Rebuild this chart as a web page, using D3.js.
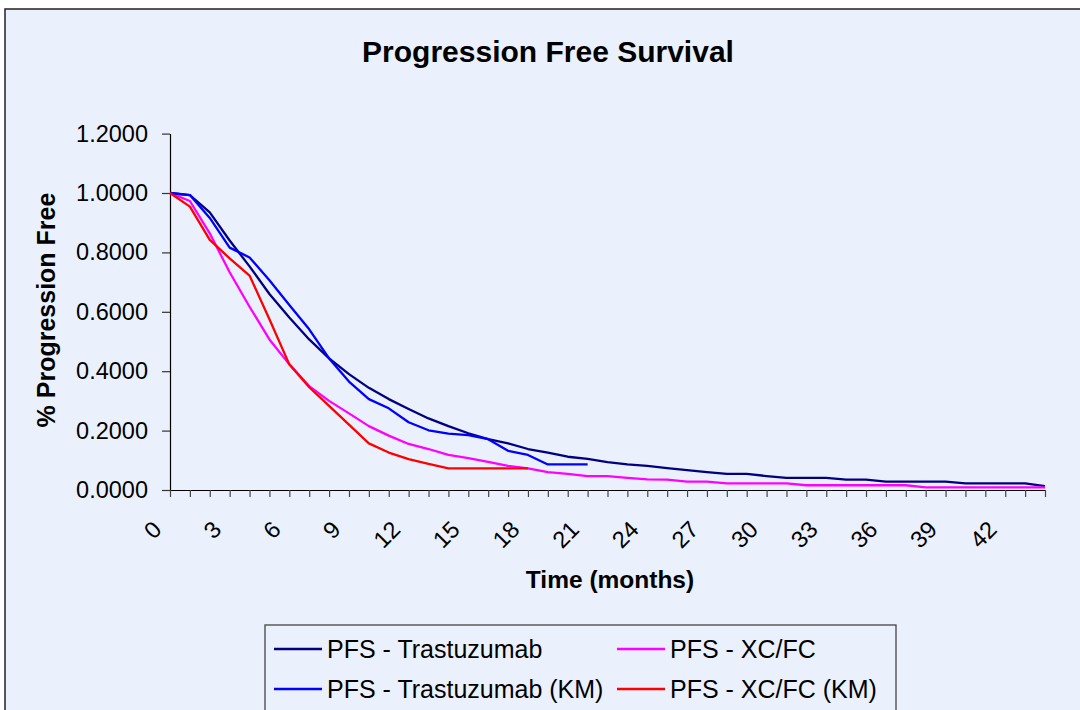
<!DOCTYPE html>
<html>
<head>
<meta charset="utf-8">
<script src="https://cdn.jsdelivr.net/npm/d3@7"></script>
<style>
  html, body { margin: 0; padding: 0; background: #ffffff; }
  svg { display: block; }
  text { font-family: "Liberation Sans", Arial, sans-serif; fill: #000; }
</style>
</head>
<body>
<svg id="chart" width="1080" height="710"></svg>
<script>
// ---- Data ----
const months = d3.range(0, 45); // categories 0..44
const yTicks = [0, 0.2, 0.4, 0.6, 0.8, 1.0, 1.2];

const trastuzumab = [1.0, 0.993, 0.935, 0.84, 0.753, 0.66, 0.581, 0.507, 0.443, 0.39,
  0.344, 0.306, 0.273, 0.241, 0.215, 0.191, 0.171, 0.157, 0.138, 0.126,
  0.112, 0.105, 0.094, 0.086, 0.081, 0.074, 0.067, 0.06, 0.054, 0.054,
  0.047, 0.041, 0.041, 0.041, 0.035, 0.035, 0.028, 0.028, 0.028, 0.028,
  0.022, 0.022, 0.022, 0.022, 0.013];

const trastuzumabKM = [1.0, 0.993, 0.916, 0.816, 0.783, 0.706, 0.623, 0.541, 0.443, 0.365,
  0.306, 0.275, 0.228, 0.201, 0.19, 0.185, 0.171, 0.132, 0.118, 0.086,
  0.086, 0.086];

const xcfc = [1.0, 0.973, 0.864, 0.733, 0.617, 0.507, 0.423, 0.35, 0.3, 0.258,
  0.215, 0.183, 0.155, 0.138, 0.118, 0.107, 0.095, 0.081, 0.073, 0.06,
  0.054, 0.047, 0.047, 0.041, 0.036, 0.035, 0.028, 0.028, 0.022, 0.022,
  0.022, 0.022, 0.016, 0.016, 0.016, 0.016, 0.016, 0.016, 0.009, 0.009,
  0.009, 0.009, 0.009, 0.009, 0.009];

const xcfcKM = [1.0, 0.954, 0.842, 0.78, 0.722, 0.575, 0.423, 0.346, 0.283, 0.22,
  0.157, 0.126, 0.104, 0.088, 0.073, 0.073, 0.073, 0.073, 0.073];

const seriesNames = ["PFS - Trastuzumab", "PFS - XC/FC", "PFS - Trastuzumab (KM)", "PFS - XC/FC (KM)"];
const seriesColors = ["#000080", "#FF00FF", "#0000FF", "#FF0000"];
const seriesData = [trastuzumab, xcfc, trastuzumabKM, xcfcKM];

// ---- Drawing ----
const svg = d3.select("#chart");
const bg = "#EAF1FD";

svg.append("rect").attr("x", 5).attr("y", 9).attr("width", 1100).attr("height", 800)
  .attr("fill", bg).attr("stroke", "#222").attr("stroke-width", 1.5);

const x = d3.scalePoint().domain(months).range([170, 1045]);
const y = d3.scaleLinear().domain([0, 1.2]).range([490, 133.6]);

// title
svg.append("text").attr("x", 548).attr("y", 62).attr("text-anchor", "middle")
  .style("font-size", "30px").style("font-weight", "bold").text("Progression Free Survival");

// y axis
const yAxis = svg.append("g").attr("transform", "translate(170,0)")
  .call(d3.axisLeft(y).tickValues(yTicks).tickFormat(d3.format(".4f")).tickSize(8).tickPadding(14).tickSizeOuter(0));
yAxis.selectAll("text").style("font-size", "23.5px").style("font-family", "Liberation Sans, Arial, sans-serif");
yAxis.select(".domain").attr("stroke", "#000").attr("stroke-width", 1.2);
yAxis.selectAll(".tick line").attr("stroke", "#333").attr("stroke-width", 1.2);

// x axis
const xAxis = svg.append("g").attr("transform", "translate(0,490)")
  .call(d3.axisBottom(x).tickSize(7).tickSizeOuter(0)
    .tickFormat(d => (d % 3 === 0 ? String(d) : "")));
xAxis.select(".domain").attr("stroke", "#000").attr("stroke-width", 1.2);
xAxis.selectAll(".tick line").attr("stroke", "#444").attr("stroke-width", 1.2);
xAxis.selectAll(".tick text")
  .attr("x", 0).attr("y", 0).attr("dy", null)
  .attr("text-anchor", "end")
  .attr("transform", "translate(-7.5,41) rotate(-45)")
  .style("font-size", "23.5px").style("font-family", "Liberation Sans, Arial, sans-serif");

// axis titles
svg.append("text").attr("x", 610).attr("y", 588).attr("text-anchor", "middle")
  .style("font-size", "24.5px").style("font-weight", "bold").text("Time (months)");
svg.append("text").attr("transform", "translate(55,310) rotate(-90)").attr("text-anchor", "middle")
  .style("font-size", "25px").style("font-weight", "bold").text("% Progression Free");

// lines
const line = d3.line().x((d, i) => x(months[i])).y(d => y(d));
seriesData.forEach((s, i) => {
  svg.append("path").datum(s).attr("d", line)
    .attr("fill", "none").attr("stroke", seriesColors[i]).attr("stroke-width", 2.3)
    .attr("stroke-linejoin", "round");
});

// legend
const lg = svg.append("g");
lg.append("rect").attr("x", 265).attr("y", 625).attr("width", 631).attr("height", 120)
  .attr("fill", bg).attr("stroke", "#444").attr("stroke-width", 1.3);
const legPos = [[274, 649], [617, 649], [274, 689], [617, 689]];
seriesNames.forEach((name, i) => {
  const [lx, ly] = legPos[i];
  lg.append("line").attr("x1", lx).attr("x2", lx + 48).attr("y1", ly).attr("y2", ly)
    .attr("stroke", seriesColors[i]).attr("stroke-width", 2.3);
  lg.append("text").attr("x", lx + 53).attr("y", ly + 8.5)
    .style("font-size", "25px").text(name);
});
</script>
</body>
</html>
